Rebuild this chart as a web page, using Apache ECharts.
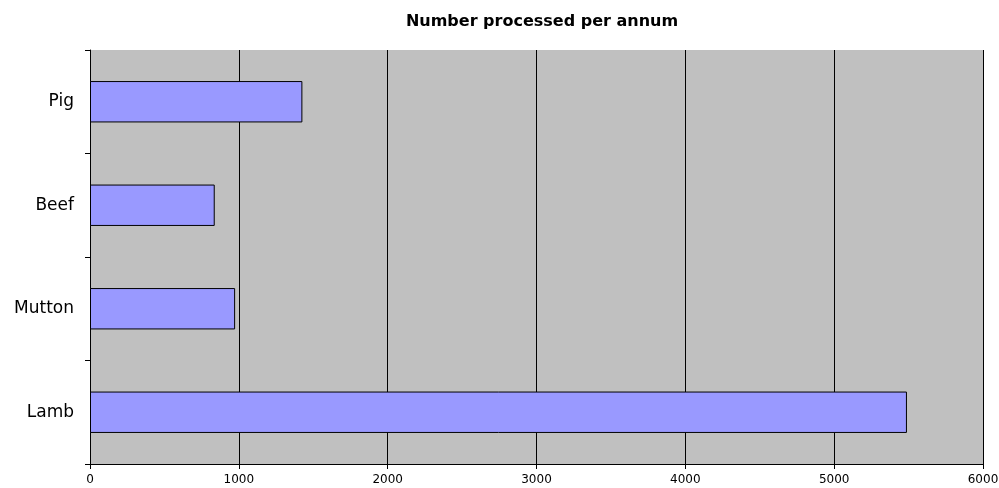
<!DOCTYPE html>
<html>
<head>
<meta charset="utf-8">
<script src="https://cdn.jsdelivr.net/npm/echarts@6/dist/echarts.min.js"></script>
<style>
  html, body { margin: 0; padding: 0; background: #ffffff; }
  #chart { width: 999px; height: 488px; }
</style>
</head>
<body>
<div id="chart"></div>
<script>
// data
var categories = ["Lamb", "Mutton", "Beef", "Pig"];
var processed = [5489, 975, 838, 1427];
var xMax = 6000;
var xStep = 1000;

var chart = echarts.init(document.getElementById("chart"));
chart.setOption({
  animation: false,
  textStyle: { fontFamily: "DejaVu Sans, Arial, sans-serif" },
  title: {
    text: "Number processed per annum",
    left: 537,
    textAlign: "center",
    top: 9,
    textStyle: { fontSize: 16, fontWeight: "bold", color: "#000", fontFamily: "DejaVu Sans" }
  },
  grid: {
    left: 90,
    right: 16,
    top: 50,
    bottom: 24,
    outerBoundsMode: "none",
    show: true,
    backgroundColor: "#c0c0c0",
    borderWidth: 0
  },
  xAxis: {
    type: "value",
    min: 0,
    max: xMax,
    interval: xStep,
    axisLine: { show: true, lineStyle: { color: "#000", width: 1 } },
    axisTick: { show: true, length: 5, lineStyle: { color: "#000" } },
    axisLabel: {
      fontSize: 12,
      color: "#000",
      margin: 10,
      formatter: function (v) { return String(v); }
    },
    splitLine: { show: true, lineStyle: { color: "#000", width: 1 } }
  },
  yAxis: {
    type: "category",
    data: categories,
    axisLine: { show: true, lineStyle: { color: "#000", width: 1 } },
    axisTick: { show: true, length: 5, lineStyle: { color: "#000" } },
    axisLabel: { fontSize: 17, color: "#000", margin: 16 },
    splitLine: { show: false }
  },
  series: [
    {
      type: "bar",
      data: processed,
      barCategoryGap: "60%",
      itemStyle: { color: "#9999ff", borderColor: "#000", borderWidth: 1 }
    }
  ]
});
</script>
</body>
</html>
